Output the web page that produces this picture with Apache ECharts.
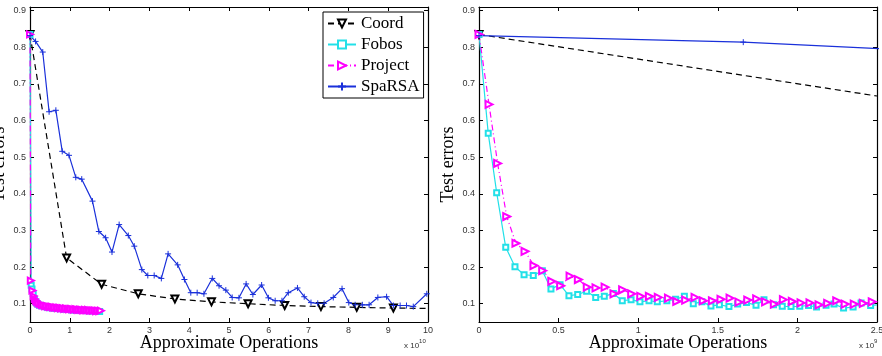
<!DOCTYPE html>
<html>
<head>
<meta charset="utf-8">
<script src="https://cdn.jsdelivr.net/npm/echarts@6/dist/echarts.min.js"></script>
<style>
  html,body{margin:0;padding:0;background:#fff;}
  #chart{width:882px;height:356px;}
</style>
</head>
<body>
<div id="chart"></div>
<script>
/* ---------- data: left panel (x in 1e10 ops) ---------- */
const seriesNames = ['Coord','Fobos','Project','SpaRSA'];
const yTicks = [0.1,0.2,0.3,0.4,0.5,0.6,0.7,0.8,0.9];

const coordL = [[0,0.835],[0.92,0.225],[1.80,0.153],[2.72,0.127],[3.64,0.113],[4.56,0.105],
  [5.48,0.100],[6.40,0.095],[7.31,0.092],[8.21,0.090],[9.13,0.088],[10,0.087]];

const fobosL = [[0,0.835],[0.03,0.150],[0.05,0.140],[0.08,0.128],[0.11,0.112],
  [0.15,0.104],[0.19,0.099],[0.24,0.096],[0.30,0.094],[0.36,0.092],[0.43,0.090],[0.50,0.089],
  [0.58,0.088],[0.66,0.087],[0.75,0.086],[0.85,0.085],[0.95,0.084],[1.05,0.083],[1.15,0.083],
  [1.25,0.082],[1.35,0.082],[1.45,0.081],[1.55,0.080],[1.65,0.080],[1.75,0.079]];

const projectL = [[0,0.835],[0.02,0.163],[0.06,0.136],[0.09,0.121],[0.12,0.113],
  [0.15,0.108],[0.18,0.104],[0.22,0.101],[0.26,0.099],[0.30,0.097],[0.34,0.096],[0.38,0.093],
  [0.42,0.094],[0.46,0.092],[0.50,0.091],[0.54,0.092],[0.58,0.090],[0.62,0.089],[0.66,0.090],
  [0.70,0.088],[0.74,0.089],[0.78,0.087],[0.82,0.088],[0.86,0.086],[0.90,0.087],[0.94,0.086],
  [0.98,0.085],[1.02,0.086],[1.06,0.085],[1.10,0.084],[1.14,0.085],[1.18,0.084],[1.22,0.083],
  [1.26,0.084],[1.30,0.083],[1.34,0.082],[1.38,0.083],[1.42,0.082],[1.46,0.083],[1.50,0.081],
  [1.54,0.082],[1.58,0.081],[1.62,0.082],[1.66,0.080],[1.70,0.081],[1.74,0.080],[1.78,0.081]];

const sparsaL = [[0,0.832],[0.14,0.816],[0.32,0.787],[0.48,0.624],[0.65,0.628],[0.81,0.516],
  [0.98,0.505],[1.15,0.445],[1.30,0.440],[1.57,0.380],[1.73,0.297],[1.90,0.280],[2.06,0.241],
  [2.24,0.316],[2.47,0.286],[2.62,0.257],[2.81,0.193],[2.96,0.177],[3.12,0.177],[3.30,0.169],
  [3.47,0.236],[3.71,0.206],[3.88,0.166],[4.04,0.130],[4.20,0.130],[4.37,0.127],[4.58,0.169],
  [4.75,0.149],[4.92,0.137],[5.08,0.117],[5.25,0.116],[5.43,0.154],[5.60,0.125],[5.82,0.151],
  [5.99,0.116],[6.16,0.108],[6.33,0.108],[6.49,0.130],[6.72,0.143],[6.89,0.119],[7.06,0.103],
  [7.23,0.101],[7.39,0.101],[7.62,0.117],[7.84,0.141],[8.01,0.103],[8.17,0.097],[8.35,0.097],
  [8.52,0.097],[8.74,0.117],[8.96,0.119],[9.13,0.095],[9.30,0.095],[9.46,0.095],[9.63,0.092],
  [9.97,0.127]];

/* ---------- data: right panel (x in 1e9 ops) ---------- */
const coordR = [[0,0.835],[2.5,0.667]];

const fobosR = [[0,0.835],[0.058,0.565],[0.111,0.403],[0.168,0.254],[0.226,0.201],[0.283,0.179],
  [0.341,0.177],[0.398,0.190],[0.452,0.140],[0.509,0.152],[0.565,0.122],[0.620,0.125],[0.676,0.134],
  [0.733,0.117],[0.787,0.120],[0.844,0.128],[0.900,0.108],[0.955,0.111],[1.011,0.105],[1.068,0.108],
  [1.12,0.105],[1.18,0.108],[1.235,0.112],[1.29,0.120],[1.346,0.100],[1.40,0.105],[1.457,0.094],
  [1.51,0.097],[1.57,0.092],[1.625,0.099],[1.68,0.103],[1.74,0.096],[1.79,0.111],[1.85,0.097],
  [1.905,0.093],[1.96,0.092],[2.015,0.093],[2.07,0.095],[2.12,0.091],[2.18,0.096],[2.23,0.099],
  [2.29,0.088],[2.35,0.091],[2.40,0.102],[2.46,0.095],[2.5,0.097]];

const projectR = [[0,0.835],[0.063,0.644],[0.117,0.483],[0.174,0.338],[0.232,0.265],[0.289,0.243],
  [0.345,0.204],[0.400,0.190],[0.457,0.161],[0.513,0.149],[0.572,0.175],[0.624,0.166],[0.680,0.145],
  [0.735,0.143],[0.792,0.145],[0.848,0.127],[0.902,0.138],[0.959,0.127],[1.016,0.120],[1.07,0.120],
  [1.126,0.117],[1.19,0.115],[1.242,0.106],[1.298,0.110],[1.357,0.117],[1.409,0.108],[1.466,0.108],
  [1.52,0.112],[1.577,0.115],[1.633,0.104],[1.688,0.110],[1.744,0.113],[1.80,0.105],[1.855,0.099],
  [1.912,0.111],[1.968,0.106],[2.023,0.102],[2.079,0.102],[2.136,0.097],[2.19,0.101],[2.247,0.108],
  [2.30,0.099],[2.357,0.099],[2.414,0.101],[2.47,0.105]];

const sparsaR = [[0,0.832],[1.66,0.814],[3.32,0.780]];

/* ---------- styles ---------- */
const SERIF = '"Liberation Serif","DejaVu Serif",serif';
const SANS = '"Liberation Sans",Arial,sans-serif';
const colors = {Coord:'#000000', Fobos:'#22e0e8', Project:'#ff00ff', SpaRSA:'#1a30da'};
const plusPath = 'path://M0,5L10,5M5,0L5,10';

function noLastSymbol(arr){
  return arr.map((p,i)=> i===arr.length-1 ? {value:p, symbol:'none'} : p);
}

function axisPair(grid, max, interval){
  const base = {
    gridIndex:grid, type:'value', min:0, max:max, interval:interval,
    axisLine:{onZero:false, lineStyle:{color:'#000', width:1.2}},
    axisTick:{inside:true, length:4, lineStyle:{color:'#000'}},
    splitLine:{show:false}
  };
  return [
    Object.assign({}, base, {
      position:'bottom',
      axisLabel:{fontSize:9, color:'#333', fontFamily:SANS, margin:4},
      name:'Approximate Operations', nameLocation:'middle', nameGap:12, nameMoveOverlap:false,
      nameTextStyle:{fontFamily:SERIF, fontSize:18, color:'#000'}
    }),
    Object.assign({}, base, {position:'top', axisLabel:{show:false}})
  ];
}
function yPair(grid){
  const base = {
    gridIndex:grid, type:'value', min:0.05, max:0.91,
    axisLine:{onZero:false, lineStyle:{color:'#000', width:1.2}},
    axisTick:{inside:true, length:4, lineStyle:{color:'#000'}, customValues:yTicks},
    splitLine:{show:false}
  };
  return [
    Object.assign({}, base, {
      position:'left',
      axisLabel:{fontSize:9, color:'#333', fontFamily:SANS, margin:4, customValues:yTicks},
      name:'Test errors', nameLocation:'middle', nameGap:22, nameMoveOverlap:false,
      nameTextStyle:{fontFamily:SERIF, fontSize:18, color:'#000'}
    }),
    Object.assign({}, base, {position:'right', axisLabel:{show:false}})
  ];
}

function mk(name, data, xi, yi, extra){
  const s = {
    name:name, type:'line', data:data, xAxisIndex:xi, yAxisIndex:yi,
    clip:true, showAllSymbol:true, z:2,
    lineStyle:{color:colors[name], width:1.2},
    itemStyle:{color:colors[name], borderColor:colors[name], borderWidth:1}
  };
  if(name==='Coord'){
    s.symbol='emptyTriangle'; s.symbolRotate=180; s.symbolSize=7;
    s.lineStyle.type=[6,4];
  }else if(name==='Fobos'){
    s.symbol='emptyRect'; s.symbolSize=5;
  }else if(name==='Project'){
    s.symbol='emptyTriangle'; s.symbolRotate=-90; s.symbolSize=7;
    s.lineStyle.type=[6,3,1,3];
  }else{
    s.symbol=plusPath; s.symbolSize=6;
  }
  return Object.assign(s, extra||{});
}

const chart = echarts.init(document.getElementById('chart'), null, {renderer:'canvas'});
chart.setOption({
  backgroundColor:'#fff',
  animation:false,
  grid:[
    {left:30, top:7, width:398, height:315, outerBoundsMode:'none', containLabel:false},
    {left:479, top:7, width:398, height:315, outerBoundsMode:'none', containLabel:false}
  ],
  xAxis:[...axisPair(0,10,1), ...axisPair(1,2.5,0.5)],
  yAxis:[...yPair(0), ...yPair(1)],
  legend:{
    data:seriesNames, orient:'vertical', left:323, top:12,
    backgroundColor:'#fff', borderColor:'#000', borderWidth:1,
    padding:[1,4,1,4], itemGap:0, itemWidth:28, itemHeight:10,
    textStyle:{fontFamily:SERIF, fontSize:17, color:'#000', lineHeight:21}
  },
  graphic:[
    {type:'text', left:404, top:338, style:{text:'{a|x 10}{b|10}', rich:{
      a:{fontSize:8, fontFamily:SANS, fill:'#333', verticalAlign:'bottom'},
      b:{fontSize:6, fontFamily:SANS, fill:'#333', verticalAlign:'top', padding:[0,0,6,0]}}}},
    {type:'text', left:859, top:338, style:{text:'{a|x 10}{b|9}', rich:{
      a:{fontSize:8, fontFamily:SANS, fill:'#333', verticalAlign:'bottom'},
      b:{fontSize:6, fontFamily:SANS, fill:'#333', verticalAlign:'top', padding:[0,0,6,0]}}}}
  ],
  series:[
    mk('Coord', noLastSymbol(coordL), 0, 0),
    mk('Fobos', fobosL, 0, 0),
    mk('Project', projectL, 0, 0, {symbolSize:6}),
    mk('SpaRSA', sparsaL, 0, 0),
    mk('Coord', noLastSymbol(coordR), 2, 2),
    mk('Fobos', noLastSymbol(fobosR), 2, 2),
    mk('Project', projectR, 2, 2),
    mk('SpaRSA', sparsaR, 2, 2)
  ]
});
</script>
</body>
</html>
